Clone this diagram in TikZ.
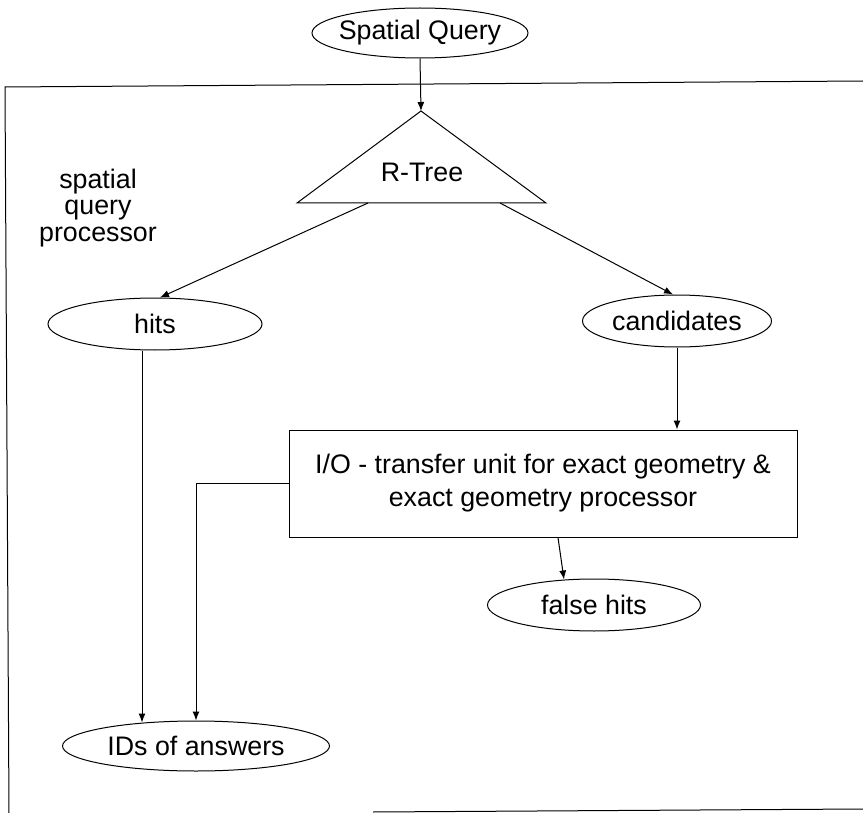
\documentclass[tikz,border=0pt]{standalone}
\usepackage{fontspec}
\setmainfont{Liberation Sans}
\usetikzlibrary{arrows.meta,shapes.geometric}

\begin{document}
\begin{tikzpicture}[x=0.5pt,y=-0.5pt,>={Latex[length=4.5pt,width=3.5pt]},line width=0.5pt,
  every node/.style={font=\fontsize{13.4}{13.4}\selectfont},
  ell/.style={draw,ellipse,inner ysep=0pt,inner xsep=-20pt,minimum height=26pt}]
  \useasboundingbox (0,0) rectangle (863,813);
  % 外枠
  \draw (863,81) -- (5,87) -- (9,813);
  \draw (373,812) -- (863,809);
  % 楕円
  \node[ell,minimum width=108pt,minimum height=25pt] (query) at (420,33) {Spatial Query};
  \node[ell,minimum width=107pt] (hits) at (155,324) {hits};
  \node[ell,minimum width=94.5pt] (cand) at (677,321) {candidates};
  \node[ell,minimum width=106.5pt] (fhits) at (594,605) {false hits};
  \node[ell,minimum width=133.5pt,minimum height=25pt] (ids) at (196,746) {IDs of answers};
  % ラベル
  \node[align=center] (sqp) at (98,208) {spatial\\query\\processor};
  % R-Tree（三角形）
  \coordinate (apex) at (421,111);
  \coordinate (bl) at (297,203);
  \coordinate (br) at (546,203);
  \draw (apex) -- (br) -- (bl) -- cycle;
  \node (rtree) at (422,172) {R-Tree};
  \coordinate (outl) at (368,203);
  \coordinate (outr) at (500,203);
  % 箱
  \node[draw,minimum width=254pt,minimum height=53.5pt,align=center,
    font=\fontsize{13.4}{16.5}\selectfont] (io) at (543,483.5)
    {I/O - transfer unit for exact geometry \&\\exact geometry processor};
  % 矢印
  \draw[->] (query.south) -- (apex);
  \draw[->] (outl) -- ([xshift=2.5pt]hits.north);
  \draw[->] (outr) -- ([xshift=-2pt]cand.north);
  \draw[->] ([xshift=-6.5pt]hits.south) -- ([xshift=-6.5pt,yshift=-1pt]hits.south |- ids.north);
  \draw[->] (cand.south) -- (cand.south |- io.north);
  \draw[->] (io.west) -| (ids.north);
  \draw[->] ([xshift=7.5pt]io.south) -- ([xshift=-15pt,yshift=-0.5pt]fhits.north);
\end{tikzpicture}
\end{document}
